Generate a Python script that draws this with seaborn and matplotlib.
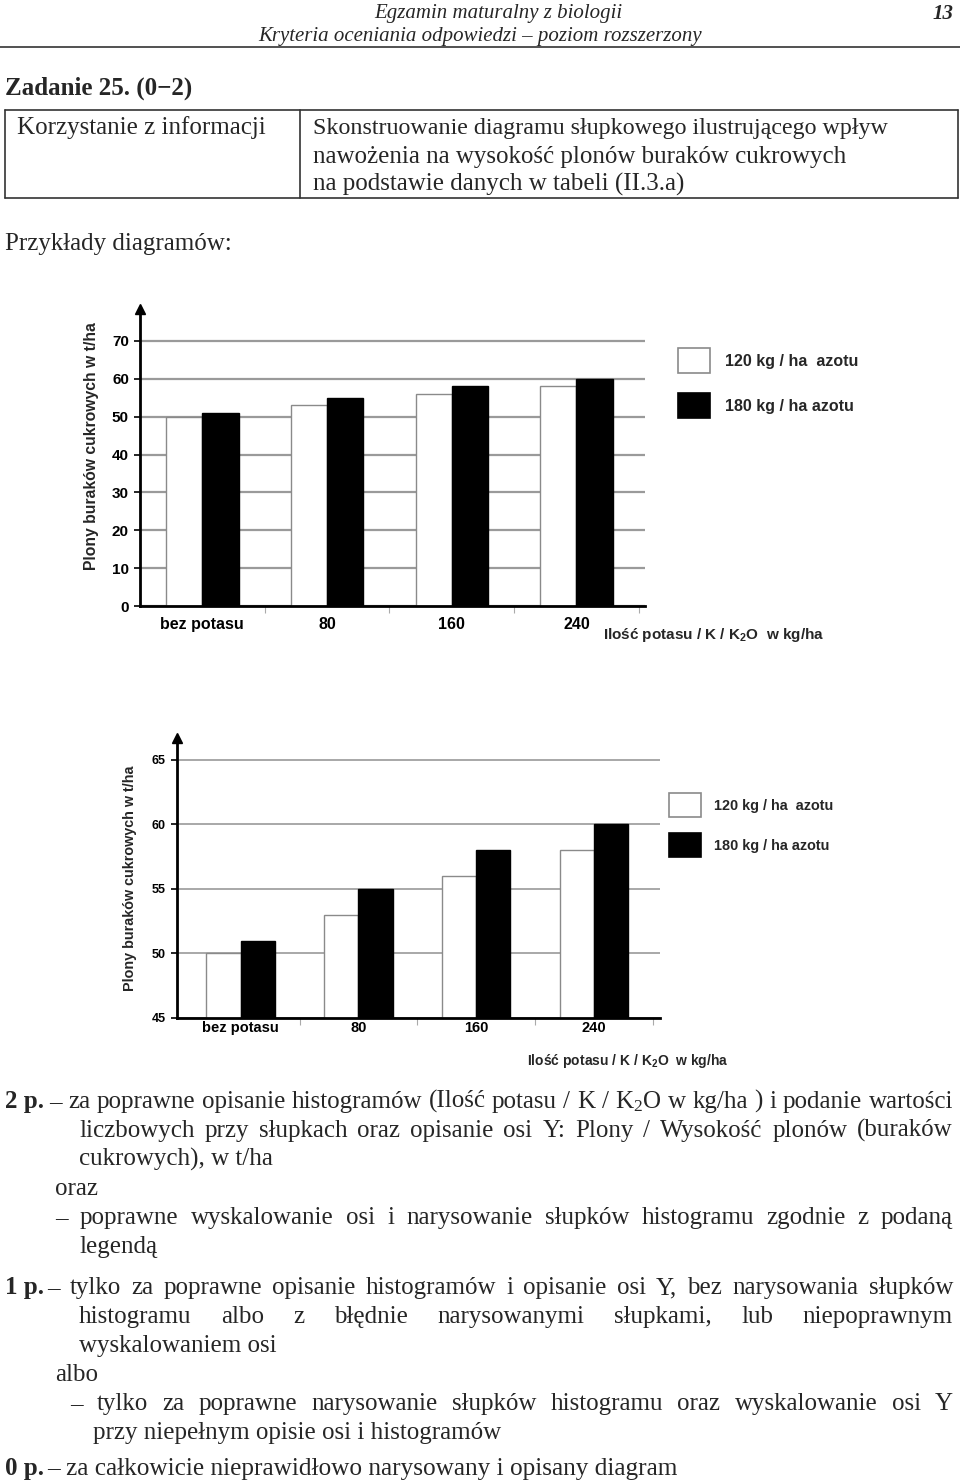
import pandas as pd
import seaborn as sns
import matplotlib.pyplot as plt
from matplotlib.patches import Patch
from matplotlib.lines import Line2D

# 1. Data
categories = ['bez potasu', '80', '160', '240']
azot_120 = [50, 53, 56, 58]
azot_180 = [51, 55, 58, 60]
series_labels = ['120 kg / ha  azotu', '180 kg / ha azotu']
ticks_chart1 = [0, 10, 20, 30, 40, 50, 60, 70]
ticks_chart2 = [45, 50, 55, 60, 65]

df = pd.DataFrame({
    'potas': categories * 2,
    'plon': azot_120 + azot_180,
    'azot': [series_labels[0]] * len(categories) + [series_labels[1]] * len(categories),
})

# 2. Fonts / figure
sns.set_style('white')
plt.rcParams['font.family'] = ['Liberation Sans', 'DejaVu Sans']
plt.rcParams['mathtext.default'] = 'regular'

W, H = 960, 1482
fig = plt.figure(figsize=(W / 100, H / 100), dpi=100)
renderer = fig.canvas.get_renderer()
SERIF = ['Liberation Serif', 'DejaVu Serif']


def fx(x):
    return x / W


def fy(y):
    return 1 - y / H


def txt(x, y, s, size=18, weight='normal', style='normal', ha='left', family=SERIF):
    return fig.text(fx(x), fy(y), s, fontsize=size, fontweight=weight, fontstyle=style,
                    ha=ha, va='baseline', family=family)


def justified(x0, x1, y, s, size=18):
    words = s.split()
    texts = [txt(0, y, w, size=size) for w in words]
    widths = [t.get_window_extent(renderer).width for t in texts]
    gap = (x1 - x0 - sum(widths)) / (len(words) - 1)
    x = x0
    for t, w in zip(texts, widths):
        t.set_x(fx(x))
        x += w + gap


def hline(x0, x1, y, lw=1.2, color='#333333'):
    fig.add_artist(Line2D([fx(x0), fx(x1)], [fy(y), fy(y)], lw=lw, color=color, transform=fig.transFigure))


def vline(x, y0, y1, lw=1.2, color='#333333'):
    fig.add_artist(Line2D([fx(x), fx(x)], [fy(y0), fy(y1)], lw=lw, color=color, transform=fig.transFigure))


# 3. Header
txt(498, 18, 'Egzamin maturalny z biologii', size=15, style='italic', ha='center')
txt(480, 41, 'Kryteria oceniania odpowiedzi \u2013 poziom rozszerzony', size=15, style='italic', ha='center')
txt(954, 19, '13', size=15, weight='bold', style='italic', ha='right')
hline(0, 960, 47, lw=1.2)

txt(5, 95, 'Zadanie 25. (0\u22122)', size=18, weight='bold')

# table
hline(5, 958, 110)
hline(5, 958, 198)
vline(5, 110, 198)
vline(958, 110, 198)
vline(300, 110, 198)
txt(17, 134, 'Korzystanie z informacji')
txt(313, 134, 'Skonstruowanie diagramu s\u0142upkowego ilustruj\u0105cego wp\u0142yw', size=17.3)
txt(313, 163, 'nawo\u017cenia na wysoko\u015b\u0107 plon\u00f3w burak\u00f3w cukrowych')
txt(313, 191, 'na podstawie danych w tabeli (II.3.a)')

txt(5, 250, 'Przyk\u0142ady diagram\u00f3w:')


# 4. Charts
def draw_chart(rect, ylim, yticks, tick_fs, cat_fs, label_pad, grid_lw, legend_xy, leg_fs, leg_hl, leg_hh,
               leg_sp, xlabel_xy, xlabel_fs, ylabel_xy, ylabel_fs, xlim):
    ax = fig.add_axes(rect)
    sns.barplot(data=df, x='potas', y='plon', hue='azot', palette=['white', 'black'], saturation=1,
                width=0.58, gap=0, errorbar=None, legend=False, ax=ax)
    for cont, ec in zip(ax.containers, ['#8a8a8a', 'black']):
        for bar in cont:
            bar.set_edgecolor(ec)
            bar.set_linewidth(1.0)
    ax.set_xlim(*xlim)
    ax.set_ylim(*ylim)
    ax.set_yticks(yticks)
    ax.set_yticklabels([str(t) for t in yticks], fontweight='bold', fontsize=tick_fs)
    ax.set_xticks(range(len(categories)))
    ax.set_xticklabels(categories, fontweight='bold', fontsize=cat_fs)
    ax.set_xticks([0.5, 1.5, 2.5, 3.5], minor=True)
    ax.tick_params(axis='x', which='major', length=0, pad=label_pad, colors='black')
    ax.tick_params(axis='x', which='minor', length=5, width=0.8, color='#aaaaaa', direction='out', bottom=True)
    ax.tick_params(axis='y', length=4, width=1.2, pad=4, left=True, colors='black')
    ax.set_xlabel('')
    ax.set_ylabel('')
    ax.yaxis.grid(True, color='#9a9a9a', lw=grid_lw)
    ax.xaxis.grid(False)
    ax.set_axisbelow(True)
    sns.despine(ax=ax)
    for side in ['left', 'bottom']:
        ax.spines[side].set_linewidth(2)
        ax.spines[side].set_color('black')
    ax.plot(0, 1, marker='^', ms=7, color='black', transform=ax.transAxes, clip_on=False)

    handles = [Patch(facecolor='white', edgecolor='#8a8a8a', lw=1.2),
               Patch(facecolor='black', edgecolor='black', lw=1.2)]
    fig.legend(handles, series_labels, loc='upper left', bbox_to_anchor=(fx(legend_xy[0]), fy(legend_xy[1])),
               frameon=False, borderpad=0, borderaxespad=0, handlelength=leg_hl, handleheight=leg_hh,
               labelspacing=leg_sp, handletextpad=0.95, prop={'weight': 'bold', 'size': leg_fs})

    fig.text(fx(xlabel_xy[0]), fy(xlabel_xy[1]), 'Ilo\u015b\u0107 potasu / K / K$_2$O  w kg/ha', fontsize=xlabel_fs,
             fontweight='bold', ha='left', va='center')
    fig.text(fx(ylabel_xy[0]), fy(ylabel_xy[1]), 'Plony burak\u00f3w cukrowych w t/ha', fontsize=ylabel_fs,
             fontweight='bold', rotation=90, ha='center', va='center')
    return ax


draw_chart([fx(140), fy(606), (645 - 140) / W, (606 - 308.8) / H], (0, 78.5), ticks_chart1, 11, 11.5, 8, 1.6,
           (678, 348), 11.5, 2.0, 2.03, 1.25, (603, 635), 11, (92, 446), 11.3, (-0.5, 3.55))

draw_chart([fx(177), fy(1018), (660 - 177) / W, (1018 - 738) / H], (45, 66.7), ticks_chart2, 9, 10.5, 2, 1.2,
           (669, 793), 10.4, 2.2, 2.19, 1.1, (527, 1061), 10, (130, 878), 10.4, (-0.54, 3.56))

# 5. Scoring text
txt(5, 1108, '2 p.', weight='bold')
justified(49, 953, 1108, '\u2013 za poprawne opisanie histogram\u00f3w (Ilo\u015b\u0107 potasu / K / K$_2$O w kg/ha ) i podanie warto\u015bci')
justified(79, 953, 1137, 'liczbowych przy s\u0142upkach oraz opisanie osi Y: Plony / Wysoko\u015b\u0107 plon\u00f3w (burak\u00f3w')
txt(79, 1166, 'cukrowych), w t/ha')
txt(55, 1195, 'oraz')
justified(55, 953, 1224, '\u2013 poprawne wyskalowanie osi i narysowanie s\u0142upk\u00f3w histogramu zgodnie z podan\u0105')
txt(79, 1253, 'legend\u0105')

txt(5, 1294, '1 p.', weight='bold')
justified(47, 953, 1294, '\u2013 tylko za poprawne opisanie histogram\u00f3w i opisanie osi Y, bez narysowania s\u0142upk\u00f3w')
justified(79, 953, 1323, 'histogramu albo z b\u0142\u0119dnie narysowanymi s\u0142upkami, lub niepoprawnym')
txt(79, 1352, 'wyskalowaniem osi')
txt(55, 1381, 'albo')
justified(70, 953, 1410, '\u2013 tylko za poprawne narysowanie s\u0142upk\u00f3w histogramu oraz wyskalowanie osi Y')
txt(93, 1439, 'przy niepe\u0142nym opisie osi i histogram\u00f3w')

txt(5, 1475, '0 p.', weight='bold')
txt(47, 1475, '\u2013 za ca\u0142kowicie nieprawid\u0142owo narysowany i opisany diagram', size=18.2)

fig.savefig('out.png', dpi=100, facecolor='white')
